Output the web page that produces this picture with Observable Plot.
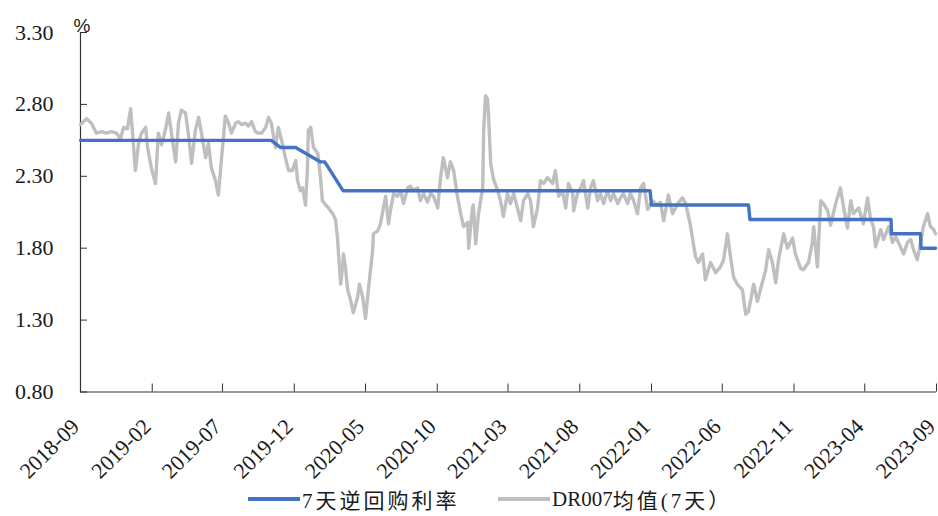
<!DOCTYPE html>
<html><head><meta charset="utf-8">
<script src="https://cdn.jsdelivr.net/npm/d3@7"></script>
<script src="https://cdn.jsdelivr.net/npm/@observablehq/plot@0.6"></script>
<style>
body{margin:0;background:#fff;}
#wrap{position:relative;width:938px;height:516px;overflow:hidden;background:#fff;}
.legend{position:absolute;top:476px;left:0;width:938px;height:46px;font-family:"Liberation Serif","Noto Sans CJK SC",serif;font-size:21px;color:#1a1a1a;}
.item{position:absolute;top:0;height:46px;display:flex;align-items:center;white-space:nowrap;}
.sw{display:inline-block;width:52px;height:3.5px;margin-right:2px;}
.cjk{letter-spacing:3px;}
</style></head><body>
<div id="wrap"><div id="chart"></div>
<div class="legend">
  <div class="item" style="left:248px"><span class="sw" style="background:#4472C4"></span><span class="cjk">7天逆回购利率</span></div>
  <div class="item" style="left:498px"><span class="sw" style="background:#BFBFBF"></span><span>DR007</span><span class="cjk">均值(7天）</span></div>
</div></div>
<script>
// ---- data ----
const xDomain = ["2018-09-17", "2023-09-17"];
const xTickDates = ["2018-09-17","2019-02-17","2019-07-17","2019-12-17","2020-05-17","2020-10-17","2021-03-17","2021-08-17","2022-01-17","2022-06-17","2022-11-17","2023-04-17","2023-09-17"];
const yTicks = [0.8, 1.3, 1.8, 2.3, 2.8, 3.3];

const repoDates = ["2018-09-17","2019-10-29","2019-11-18","2019-12-20","2020-02-11","2020-02-20","2020-03-30","2022-01-14","2022-01-17","2022-08-12","2022-08-15","2023-06-12","2023-06-13","2023-08-14","2023-08-15","2023-09-15"];
const repoRates = [2.55,2.55,2.50,2.50,2.40,2.40,2.20,2.20,2.10,2.10,2.00,2.00,1.90,1.90,1.80,1.80];

const drDates = ["2018-09-17","2018-09-30","2018-10-10","2018-10-21","2018-11-01","2018-11-11","2018-11-22","2018-12-03","2018-12-11","2018-12-18","2018-12-26","2019-01-02","2019-01-06","2019-01-12","2019-01-19","2019-01-25","2019-02-03","2019-02-07","2019-02-15","2019-02-24","2019-03-02","2019-03-09","2019-03-17","2019-03-24","2019-03-30","2019-04-08","2019-04-14","2019-04-20","2019-04-29","2019-05-05","2019-05-12","2019-05-20","2019-05-27","2019-06-02","2019-06-11","2019-06-17","2019-06-23","2019-07-02","2019-07-08","2019-07-15","2019-07-23","2019-07-30","2019-08-05","2019-08-14","2019-08-20","2019-08-26","2019-09-04","2019-09-10","2019-09-17","2019-09-25","2019-10-02","2019-10-08","2019-10-17","2019-10-23","2019-10-29","2019-11-07","2019-11-13","2019-11-20","2019-11-28","2019-12-05","2019-12-13","2019-12-20","2019-12-24","2019-12-30","2020-01-04","2020-01-10","2020-01-14","2020-01-16","2020-01-21","2020-01-27","2020-02-05","2020-02-07","2020-02-11","2020-02-15","2020-02-22","2020-02-28","2020-03-08","2020-03-14","2020-03-18","2020-03-20","2020-03-25","2020-03-29","2020-03-31","2020-04-04","2020-04-09","2020-04-15","2020-04-21","2020-04-30","2020-05-04","2020-05-11","2020-05-17","2020-05-23","2020-06-01","2020-06-03","2020-06-12","2020-06-18","2020-06-24","2020-06-29","2020-07-05","2020-07-09","2020-07-16","2020-07-24","2020-07-31","2020-08-06","2020-08-15","2020-08-21","2020-08-27","2020-09-05","2020-09-11","2020-09-18","2020-09-26","2020-10-03","2020-10-09","2020-10-18","2020-10-24","2020-10-30","2020-11-08","2020-11-14","2020-11-21","2020-11-29","2020-12-06","2020-12-12","2020-12-21","2020-12-23","2020-12-31","2021-01-02","2021-01-07","2021-01-13","2021-01-22","2021-01-24","2021-01-28","2021-02-01","2021-02-03","2021-02-08","2021-02-14","2021-02-23","2021-03-01","2021-03-07","2021-03-16","2021-03-22","2021-03-29","2021-04-06","2021-04-13","2021-04-19","2021-04-28","2021-05-04","2021-05-10","2021-05-19","2021-05-25","2021-06-01","2021-06-09","2021-06-20","2021-06-26","2021-07-03","2021-07-11","2021-07-18","2021-07-24","2021-08-02","2021-08-04","2021-08-12","2021-08-19","2021-08-25","2021-09-03","2021-09-09","2021-09-15","2021-09-24","2021-09-30","2021-10-07","2021-10-15","2021-10-22","2021-10-28","2021-11-06","2021-11-12","2021-11-18","2021-11-27","2021-12-03","2021-12-10","2021-12-18","2021-12-25","2021-12-31","2022-01-09","2022-01-19","2022-01-30","2022-02-05","2022-02-12","2022-02-22","2022-03-03","2022-03-14","2022-03-24","2022-03-31","2022-04-10","2022-04-21","2022-04-27","2022-05-06","2022-05-12","2022-05-23","2022-06-03","2022-06-13","2022-06-20","2022-06-28","2022-07-05","2022-07-11","2022-07-19","2022-07-30","2022-08-06","2022-08-12","2022-08-23","2022-08-31","2022-09-07","2022-09-17","2022-09-24","2022-10-02","2022-10-09","2022-10-15","2022-10-26","2022-11-03","2022-11-14","2022-11-20","2022-12-01","2022-12-07","2022-12-18","2022-12-26","2022-12-29","2023-01-06","2023-01-13","2023-01-19","2023-01-28","2023-02-03","2023-02-14","2023-02-24","2023-03-03","2023-03-11","2023-03-18","2023-03-24","2023-04-04","2023-04-14","2023-04-23","2023-04-29","2023-05-06","2023-05-10","2023-05-21","2023-05-27","2023-06-07","2023-06-15","2023-06-22","2023-07-02","2023-07-09","2023-07-17","2023-07-24","2023-07-30","2023-08-07","2023-08-14","2023-08-20","2023-08-29","2023-09-04","2023-09-11","2023-09-15"];
const drValues = [2.66,2.70,2.67,2.60,2.61,2.60,2.61,2.60,2.56,2.64,2.63,2.77,2.60,2.34,2.53,2.60,2.64,2.50,2.36,2.25,2.60,2.52,2.62,2.74,2.60,2.40,2.67,2.76,2.74,2.60,2.39,2.62,2.71,2.60,2.43,2.53,2.36,2.27,2.17,2.43,2.72,2.67,2.60,2.67,2.68,2.66,2.67,2.65,2.68,2.61,2.60,2.60,2.64,2.71,2.67,2.50,2.64,2.55,2.43,2.34,2.34,2.41,2.27,2.20,2.22,2.10,2.34,2.62,2.64,2.50,2.46,2.41,2.29,2.13,2.10,2.08,2.04,2.00,1.88,1.78,1.55,1.67,1.76,1.67,1.51,1.44,1.35,1.46,1.55,1.46,1.31,1.51,1.78,1.90,1.92,1.97,2.08,2.16,1.97,2.06,2.18,2.16,2.20,2.11,2.22,2.23,2.20,2.22,2.13,2.18,2.12,2.18,2.16,2.08,2.29,2.43,2.29,2.40,2.34,2.16,2.04,1.95,1.98,1.80,2.08,2.10,1.83,2.04,2.22,2.62,2.86,2.84,2.75,2.39,2.28,2.20,2.13,2.02,2.18,2.11,2.18,2.08,1.99,2.13,2.18,2.13,1.95,2.08,2.27,2.25,2.29,2.25,2.34,2.16,2.20,2.08,2.25,2.18,2.06,2.18,2.22,2.27,2.08,2.22,2.27,2.13,2.18,2.11,2.20,2.13,2.18,2.11,2.15,2.18,2.11,2.18,2.13,2.04,2.22,2.25,2.07,2.13,2.10,2.12,1.99,2.17,2.04,2.11,2.15,2.11,1.96,1.74,1.70,1.76,1.58,1.70,1.63,1.67,1.72,1.90,1.73,1.60,1.55,1.51,1.34,1.36,1.55,1.43,1.52,1.64,1.79,1.70,1.56,1.72,1.90,1.80,1.87,1.76,1.66,1.65,1.70,1.84,1.95,1.67,2.13,2.11,2.06,1.96,2.11,2.22,2.08,1.94,2.13,2.04,2.08,1.97,2.15,2.01,1.94,1.81,1.93,1.86,1.95,1.84,1.88,1.81,1.76,1.84,1.86,1.79,1.72,1.84,1.95,2.04,1.95,1.93,1.90];

// ---- build ----
const parse = d3.utcParse("%Y-%m-%d");
const repo = repoDates.map((d, i) => ({date: parse(d), value: repoRates[i]}));
const dr = drDates.map((d, i) => ({date: parse(d), value: drValues[i]}));
const xTicks = xTickDates.map(parse);
const x0 = parse(xDomain[0]);
const fmt = d3.utcFormat("%Y-%m");

const chart = Plot.plot({
  width: 938,
  height: 476,
  marginLeft: 80,
  marginRight: 2,
  marginTop: 32,
  marginBottom: 84.5,
  x: {type: "utc", domain: [x0, parse(xDomain[1])]},
  y: {domain: [0.8, 3.3]},
  style: {fontFamily: "'Liberation Serif', 'Times New Roman', serif", fontSize: "22px", color: "#1a1a1a", background: "#fff", overflow: "visible"},
  marks: [
    Plot.axisY({ticks: yTicks, tickSize: 0, tickPadding: 27, tickFormat: d => d.toFixed(2), label: null, fontSize: 22}),
    Plot.axisY({ticks: yTicks, tickSize: 7, dx: 7, text: null, label: null, stroke: "#333"}),
    Plot.axisX({ticks: xTicks, tickSize: 0, tickPadding: 31, dx: -5, tickRotate: -45, tickFormat: fmt, label: null, fontSize: 22}),
    Plot.axisX({ticks: xTicks, tickSize: 8, dy: -8, text: null, label: null, stroke: "#333"}),
    Plot.ruleX([x0], {stroke: "#333", strokeWidth: 1.2}),
    Plot.ruleY([0.8], {stroke: "#333", strokeWidth: 1.2}),
    Plot.line(dr, {x: "date", y: "value", stroke: "#BFBFBF", strokeWidth: 3.4, strokeLinejoin: "round"}),
    Plot.line(repo, {x: "date", y: "value", stroke: "#4472C4", strokeWidth: 3.4}),
    Plot.text(["%"], {text: d => d, frameAnchor: "top-left", dx: -7, dy: -14, fontFamily: "'Liberation Sans', Arial, sans-serif", fontSize: 19, fill: "#1a1a1a"})
  ]
});
document.getElementById("chart").appendChild(chart);
</script>
</body></html>
